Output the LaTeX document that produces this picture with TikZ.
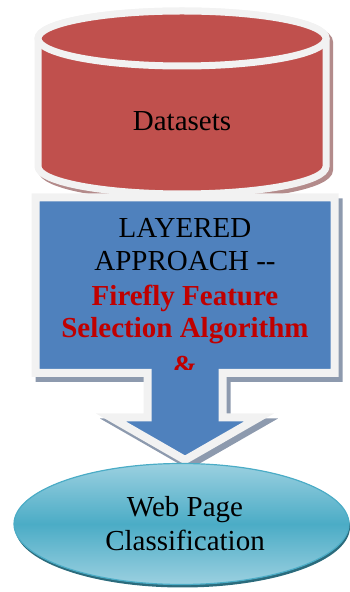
\documentclass[tikz,border=0pt]{standalone}
\usepackage{fontspec}
\setmainfont{Liberation Serif}
\definecolor{cylred}{HTML}{C0504D}
\definecolor{rimwhite}{HTML}{F2F2F2}
\definecolor{cylshadow}{HTML}{B38B8B}
\definecolor{arrblue}{HTML}{4F81BD}
\definecolor{arrshadow}{HTML}{8D9AAE}
\definecolor{txtred}{HTML}{C00000}
\definecolor{ellmid}{HTML}{4BACC6}
\definecolor{elllight}{HTML}{9BD0E0}
\definecolor{ellshadow}{HTML}{2B6B7C}
\tikzset{
  rim/.style={draw=rimwhite, line width=7pt, miter limit=10},
  bigtext/.style={font=\fontsize{29}{33}\selectfont, inner sep=0pt, anchor=base},
  redtext/.style={bigtext, font=\fontsize{29}{33}\selectfont\bfseries, text=txtred},
}
\begin{document}
\begin{tikzpicture}[x=1pt,y=1pt]
\useasboundingbox (0,0) rectangle (350,592);
% ---------- cylinder ----------
\def\cylbody{(38,553.5) -- (38,425.5) arc[start angle=180,end angle=360,x radius=144,y radius=27.5] -- (326,553.5) arc[start angle=0,end angle=180,x radius=144,y radius=27.5] -- cycle}
\begin{scope}[shift={(3.5,-3.5)}]
  \draw[draw=cylshadow, fill=cylshadow, line width=7pt] \cylbody;
\end{scope}
\draw[rim, fill=cylred] \cylbody;
\draw[rim, fill=cylred] (182,553.5) ellipse[x radius=144, y radius=27.5];
\node[bigtext] (ds) at (182,461) {Datasets};
% ---------- arrow callout ----------
\def\arrowpath{(35.5,394.5) -- (334.5,394.5) -- (334.5,219) -- (222.5,219) -- (222.5,174.5) -- (259,174.5) -- (185,132) -- (111,174.5) -- (147.5,174.5) -- (147.5,219) -- (35.5,219) -- cycle}
\begin{scope}[shift={(4,-5)}]
  \draw[draw=arrshadow, fill=arrshadow, line width=8pt, miter limit=10] \arrowpath;
\end{scope}
\draw[rim, line width=8pt, fill=arrblue] \arrowpath;
\begin{scope}
  \clip (35,222) rectangle (335,395);
  \node[bigtext] (l1) at (185,354) {LAYERED};
  \node[bigtext] (l2) at (185,321) {APPROACH -{}-};
  \node[redtext] (l3) at (185,286) {Firefly Feature};
  \node[redtext] (l4) at (185,254) {Selection Algorithm};
  \node[redtext] (l5) at (185,216) {\&};
\end{scope}
% ---------- ellipse ----------
\fill[ellshadow] (182.5,65) ellipse[x radius=167.5, y radius=60.5];
\shade[top color=elllight, bottom color=elllight, middle color=ellmid, draw=ellmid, line width=1.2pt]
  (181.5,68) ellipse[x radius=167.5, y radius=60.5];
\node[bigtext] (w1) at (185,75) {Web Page};
\node[bigtext] (w2) at (185,41) {Classification};
\end{tikzpicture}
\end{document}
